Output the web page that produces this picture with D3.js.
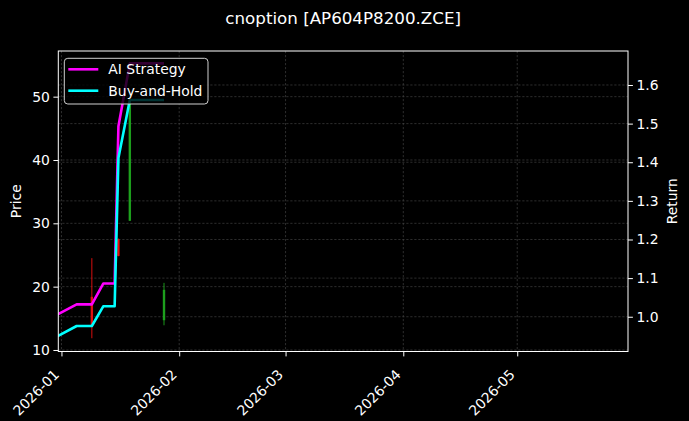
<!DOCTYPE html>
<html><head><meta charset="utf-8">
<script src="https://cdn.jsdelivr.net/npm/d3@7/dist/d3.min.js"></script>
<style>
html,body{margin:0;padding:0;background:#000;}
svg{display:block;font-family:"DejaVu Sans",sans-serif;}
</style></head>
<body><svg id="chart" width="689" height="421"></svg>
<script>
// ---- data ----
const title = "cnoption [AP604P8200.ZCE]";
const dates = ["2025-12-31","2026-01-05","2026-01-06","2026-01-07","2026-01-08","2026-01-09",
  "2026-01-12","2026-01-13","2026-01-14","2026-01-15","2026-01-16","2026-01-19","2026-01-20",
  "2026-01-21","2026-01-22","2026-01-23","2026-01-26","2026-01-27","2026-01-28"];
const aiStrategy = [1.006,1.032,1.032,1.032,1.032,1.032,1.086,1.086,1.086,1.086,1.493,1.656,1.656,1.656,1.656,1.656,1.656,1.656,1.656];
const buyHold    = [0.950,0.976,0.976,0.976,0.976,0.976,1.027,1.027,1.027,1.027,1.411,1.561,1.561,1.561,1.561,1.561,1.561,1.561,1.561];
const candleDates = ["2026-01-09","2026-01-16","2026-01-19","2026-01-28"];
const candleOpen  = [18.4, 27.5, 30.4, 14.7];
const candleHigh  = [24.5, 27.6, 49.5, 20.6];
const candleLow   = [11.85,24.8, 30.4, 13.9];
const candleClose = [13.7, 24.85,49.5, 19.5];
const priceTicks = [10,20,30,40,50];
const returnTicks = [1.0,1.1,1.2,1.3,1.4,1.5,1.6];
const monthTicks = ["2026-01-01","2026-02-01","2026-03-01","2026-04-01","2026-05-01"];
const seriesNames = ["AI Strategy","Buy-and-Hold"];
const seriesColors = ["#ff00ff","#00ffff"];

// ---- layout ----
const L = 58.3, R = 628, T = 51, B = 351.5;
const parse = d3.utcParse("%Y-%m-%d");
const svg = d3.select("#chart");
svg.append("rect").attr("width",689).attr("height",421).attr("fill","#000");

const x = d3.scaleUtc().domain([new Date(Date.UTC(2025,11,31,4)), new Date(Date.UTC(2026,4,30,4))]).range([L,R]);
const yP = d3.scaleLinear().domain([9.76,57.21]).range([B,T]);
const yR = d3.scaleLinear().domain([0.910,1.688]).range([B,T]);

const g = svg.append("g");
// grid
const grid = g.append("g").attr("stroke","#4c4c4c").attr("stroke-width",0.6).attr("stroke-dasharray","2.2,1.8");
monthTicks.forEach(m=>{ const xx=x(parse(m)); grid.append("line").attr("x1",xx).attr("x2",xx).attr("y1",T).attr("y2",B); });
priceTicks.forEach(v=>{ const yy=yP(v); grid.append("line").attr("x1",L).attr("x2",R).attr("y1",yy).attr("y2",yy); });
returnTicks.forEach(v=>{ const yy=yR(v); grid.append("line").attr("x1",L).attr("x2",R).attr("y1",yy).attr("y2",yy); });

// clip
svg.append("clipPath").attr("id","clip").append("rect").attr("x",L).attr("y",T).attr("width",R-L).attr("height",B-T);
const plot = g.append("g").attr("clip-path","url(#clip)");

// candles
candleDates.forEach((d,i)=>{
  const up = candleClose[i] >= candleOpen[i];
  const col = up ? "#1fa81f" : "#f01010";
  const cx = x(parse(d));
  plot.append("line").attr("x1",cx).attr("x2",cx).attr("y1",yP(candleHigh[i])).attr("y2",yP(candleLow[i]))
    .attr("stroke",col).attr("stroke-width",1).attr("opacity",0.9);
  const y1 = yP(Math.max(candleOpen[i],candleClose[i])), y2 = yP(Math.min(candleOpen[i],candleClose[i]));
  plot.append("rect").attr("x",cx-1.2).attr("width",2.4).attr("y",y1).attr("height",Math.max(0.5,y2-y1))
    .attr("fill",col).attr("opacity",0.9);
});

// lines
const series = [aiStrategy, buyHold];
series.forEach((s,k)=>{
  const line = d3.line().x((v,i)=>x(parse(dates[i]))).y(v=>yR(v));
  plot.append("path").attr("d",line(s)).attr("fill","none").attr("stroke",seriesColors[k])
    .attr("stroke-width",2.6).attr("stroke-linejoin","round");
});

// spines
g.append("rect").attr("x",L).attr("y",T).attr("width",R-L).attr("height",B-T).attr("fill","none").attr("stroke","#fff").attr("stroke-width",1);

const fs = 13.9;
// left axis
const yAxisL = d3.axisLeft(yP).tickValues(priceTicks).tickSize(4.9).tickPadding(3.5).tickFormat(d3.format("d"));
const ga = svg.append("g").attr("transform",`translate(${L},0)`).call(yAxisL);
// right axis
const yAxisR = d3.axisRight(yR).tickValues(returnTicks).tickSize(4.9).tickPadding(3.5).tickFormat(d3.format(".1f"));
const gb = svg.append("g").attr("transform",`translate(${R},0)`).call(yAxisR);
// bottom axis
const xAxis = d3.axisBottom(x).tickValues(monthTicks.map(parse)).tickSize(4.9).tickFormat(d3.utcFormat("%Y-%m"));
const gc = svg.append("g").attr("transform",`translate(0,${B})`).call(xAxis);
gc.selectAll("text").attr("text-anchor","end").attr("dy",null).attr("y",null)
  .attr("transform","translate(-2,24) rotate(-45)");
[ga,gb,gc].forEach(a=>{
  a.select(".domain").remove();
  a.selectAll("line").attr("stroke","#fff");
  a.selectAll("text").attr("fill","#fff").style("font-size",fs+"px").style("font-family","DejaVu Sans");
});

// axis labels
svg.append("text").attr("transform",`translate(21,${(T+B)/2}) rotate(-90)`).attr("text-anchor","middle")
  .attr("fill","#fff").style("font-size",fs+"px").text("Price");
svg.append("text").attr("transform",`translate(677,${(T+B)/2}) rotate(-90)`).attr("text-anchor","middle")
  .attr("fill","#fff").style("font-size",fs+"px").text("Return");

// title
svg.append("text").attr("x",(L+R)/2).attr("y",24).attr("text-anchor","middle").attr("fill","#fff")
  .style("font-size","16.7px").text(title);

// legend
const lg = svg.append("g");
lg.append("rect").attr("x",64.3).attr("y",58.3).attr("width",143.7).attr("height",45.7).attr("rx",3.5)
  .attr("fill","#000").attr("fill-opacity",0.8).attr("stroke","#d0d0d0").attr("stroke-width",1);
seriesNames.forEach((n,i)=>{
  const yy = 69.3 + i*21.4;
  lg.append("line").attr("x1",68.3).attr("x2",98.3).attr("y1",yy).attr("y2",yy).attr("stroke",seriesColors[i]).attr("stroke-width",2.6);
  lg.append("text").attr("x",108.3).attr("y",yy+5).attr("fill","#fff").style("font-size",fs+"px").text(n);
});
</script></body></html>
